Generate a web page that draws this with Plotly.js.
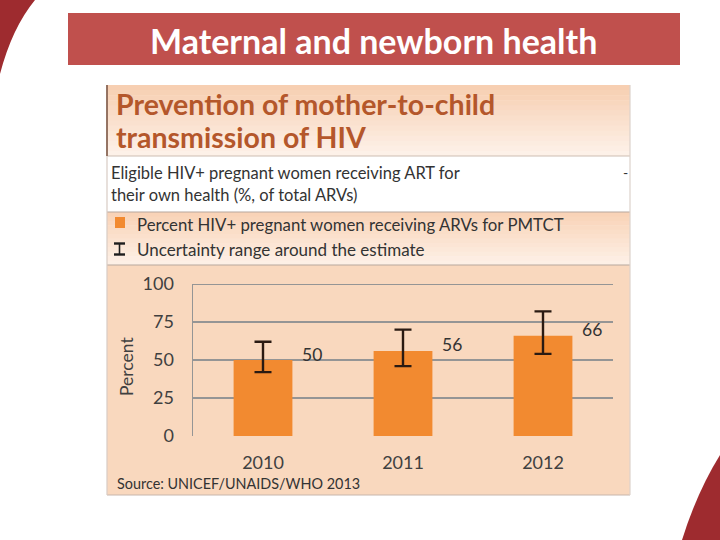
<!DOCTYPE html>
<html>
<head>
<meta charset="utf-8">
<script src="https://cdn.plot.ly/plotly-3.0.1.min.js"></script>
<style>html,body{margin:0;padding:0;background:#fff;}#chart{width:720px;height:540px;}</style>
</head>
<body>
<div id="chart"></div>
<script>
// ---- data ----
var years = ['2010', '2011', '2012'];
var percentValues = [50, 56, 66];
var lowerBounds = [42, 46, 54];
var upperBounds = [62, 70, 82];
var yTickValues = [0, 25, 50, 75, 100];
var yTickLabels = ['0', '25', '50', '75', '100'];

// ---- geometry helpers (plot area in pixels) ----
var W = 720, H = 540;
var PL = 193, PR = 613, PT = 284, PB = 436;
function px(x) { return (x - PL) / (PR - PL); }
function py(y) { return (PB - y) / (PB - PT); }

var FONT = 'Lato, "Open Sans", sans-serif';
var shapes = [];
var annotations = [];

function rect(x0, y0, x1, y1, fill, line) {
  shapes.push({type: 'rect', xref: 'paper', yref: 'paper', layer: 'below',
    x0: px(x0), x1: px(x1), y0: py(y1), y1: py(y0),
    fillcolor: fill, line: line || {width: 0}});
}
function hex2rgb(h) { return [parseInt(h.substr(1,2),16), parseInt(h.substr(3,2),16), parseInt(h.substr(5,2),16)]; }
function gradient(x0, y0, x1, y1, cTop, cBot, n) {
  var a = hex2rgb(cTop), b = hex2rgb(cBot);
  var h = (y1 - y0) / n;
  for (var i = 0; i < n; i++) {
    var t = i / (n - 1);
    var c = 'rgb(' + [0,1,2].map(function (k) { return Math.round(a[k] + (b[k] - a[k]) * t); }).join(',') + ')';
    rect(x0, y0 + i * h, x1, y0 + (i + 1) * h + 0.6, c);
  }
}
function hline(x0, x1, y, color, w) {
  shapes.push({type: 'line', xref: 'paper', yref: 'paper', layer: 'below',
    x0: px(x0), x1: px(x1), y0: py(y), y1: py(y), line: {color: color, width: w}});
}
function vline(x, y0, y1, color, w) {
  shapes.push({type: 'line', xref: 'paper', yref: 'paper', layer: 'below',
    x0: px(x), x1: px(x), y0: py(y0), y1: py(y1), line: {color: color, width: w}});
}
function text(x, y, t, size, color, opts) {
  opts = opts || {};
  annotations.push(Object.assign({xref: 'paper', yref: 'paper', x: px(x), y: py(y), text: t,
    showarrow: false, xanchor: 'left', yanchor: 'middle',
    font: {family: FONT, size: size, color: color}}, opts));
}

// ---- slide decoration ----
shapes.push({type: 'path', xref: 'paper', yref: 'paper', layer: 'below', line: {width: 0}, fillcolor: '#9e2b2f',
  path: 'M' + px(0) + ',' + py(0) + ' L' + px(35) + ',' + py(0) + ' Q' + px(12) + ',' + py(28) + ' ' + px(0) + ',' + py(74) + ' Z'});
shapes.push({type: 'path', xref: 'paper', yref: 'paper', layer: 'below', line: {width: 0}, fillcolor: '#9e2b2f',
  path: 'M' + px(720) + ',' + py(455) + ' Q' + px(697) + ',' + py(492) + ' ' + px(682) + ',' + py(540) + ' L' + px(720) + ',' + py(540) + ' Z'});

// title bar
rect(68, 13, 680, 65, '#c0504d');
text(373, 40, '<b>Maternal and newborn health</b>', 34, '#ffffff', {xanchor: 'center'});

// ---- panel ----
gradient(107, 85, 630, 156, '#f7cfb2', '#fdf1e8', 14);
rect(107, 156, 630, 212, '#ffffff');
gradient(107, 212, 630, 265, '#f9d3b7', '#fdf0e6', 12);
rect(107, 265, 630, 495, '#f9d8be');
hline(107, 630, 156, '#cdbdb2', 1.2);
hline(107, 630, 212, '#b8a89d', 1.2);
hline(107, 630, 265, '#b8a89d', 1.2);
hline(107, 630, 495, '#c7b6ab', 1.2);
vline(630, 85, 495, '#dcd2cc', 1.2);
vline(107, 156, 495, '#d8ccc4', 1.2);
vline(107, 85, 156, '#8a6655', 1.8);

text(114, 104, '<b>Prevention of mother-to-child</b>', 28.5, '#b4572b');
text(114, 137, '<b>transmission of HIV</b>', 28.5, '#b4572b');
text(109, 173, 'Eligible HIV+ pregnant women receiving ART for', 16.5, '#333333');
text(109, 195, 'their own health (%, of total ARVs)', 16.5, '#333333');
text(621, 172, '-', 14, '#333333');

// legend
rect(115, 217, 125, 228, '#f28a30');
hline(114, 125, 243.5, '#1e1e1e', 2.4);
hline(114, 125, 254.5, '#1e1e1e', 2.4);
vline(119.5, 243.5, 254.5, '#1e1e1e', 1.6);
text(135, 224, 'Percent HIV+ pregnant women receiving ARVs for PMTCT', 16.8, '#333333');
text(135, 249, 'Uncertainty range around the estimate', 17, '#333333');

text(115, 483, 'Source: UNICEF/UNAIDS/WHO 2013', 14.4, '#333333');

// y axis title
text(126, 367, 'Percent', 17.5, '#404040', {xanchor: 'center', textangle: -90});

// gridlines (data-referenced, skip 0)
yTickValues.forEach(function (v) {
  if (v === 0) return;
  shapes.push({type: 'line', xref: 'paper', yref: 'y', layer: 'below',
    x0: 0, x1: 1, y0: v, y1: v, line: {color: '#959595', width: 2}});
});

// value labels (category index on x)
years.forEach(function (yr, i) {
  annotations.push({xref: 'x', yref: 'y', x: i, y: percentValues[i], text: String(percentValues[i]),
    showarrow: false, xanchor: 'left', yanchor: 'middle', xshift: 37, yshift: 6,
    font: {family: FONT, size: 17.5, color: '#333333'}});
});

var trace = {
  type: 'bar', x: years, y: percentValues, width: 0.42,
  marker: {color: '#f28a30', line: {width: 0}},
  error_y: {type: 'data', symmetric: false,
    array: upperBounds.map(function (u, i) { return u - percentValues[i]; }),
    arrayminus: lowerBounds.map(function (l, i) { return percentValues[i] - l; }),
    color: '#2a1a12', thickness: 2.4, width: 8.5},
  hoverinfo: 'none'
};

var layout = {
  width: W, height: H,
  margin: {l: PL, r: W - PR, t: PT, b: H - PB, pad: 0},
  paper_bgcolor: '#ffffff', plot_bgcolor: 'rgba(0,0,0,0)',
  showlegend: false,
  font: {family: FONT, color: '#404040'},
  xaxis: {type: 'category', range: [-0.5, 2.5], showgrid: false, zeroline: false, showline: false,
    ticks: '', tickfont: {size: 18, color: '#404040', family: FONT}, ticklabelstandoff: 14, fixedrange: true},
  yaxis: {range: [0, 100], tickvals: yTickValues, ticktext: yTickLabels, showgrid: false, zeroline: false,
    showline: true, linecolor: '#959595', linewidth: 1.5, ticks: '',
    tickfont: {size: 18, color: '#404040', family: FONT}, ticklabelstandoff: 14, fixedrange: true},
  shapes: shapes,
  annotations: annotations
};

Plotly.newPlot('chart', [trace], layout, {displayModeBar: false, staticPlot: true});
</script>
</body>
</html>
